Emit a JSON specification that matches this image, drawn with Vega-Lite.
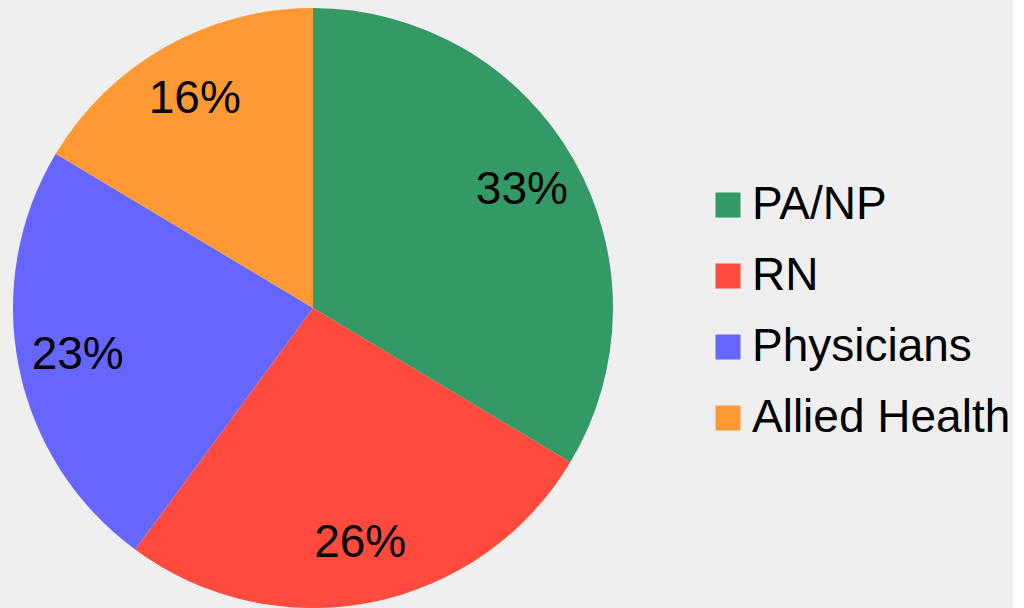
{
  "$schema": "https://vega.github.io/schema/vega-lite/v6.json",
  "width": 600,
  "height": 600,
  "autosize": {"type": "pad"},
  "padding": {"left": 13, "top": 8, "right": 2, "bottom": 0},
  "background": "#efefef",
  "config": {"view": {"stroke": null}, "font": "Liberation Sans"},
  "data": {
    "values": [
      {"role": "PA/NP", "value": 33.6, "label": "33%", "k": 1},
      {"role": "RN", "value": 26.5, "label": "26%", "k": 2},
      {"role": "Physicians", "value": 23.5, "label": "23%", "k": 3},
      {"role": "Allied Health", "value": 16.4, "label": "16%", "k": 4}
    ]
  },
  "encoding": {
    "theta": {"field": "value", "type": "quantitative", "stack": true},
    "order": {"field": "k", "type": "quantitative"}
  },
  "layer": [
    {
      "mark": {"type": "arc", "outerRadius": 300},
      "encoding": {
        "color": {
          "field": "role",
          "type": "nominal",
          "sort": ["PA/NP", "RN", "Physicians", "Allied Health"],
          "scale": {
            "domain": ["PA/NP", "RN", "Physicians", "Allied Health"],
            "range": ["#339966", "#FF4A3D", "#6666FF", "#FF9933"]
          },
          "legend": {
            "title": null,
            "orient": "none",
            "legendX": 692,
            "legendY": 174,
            "symbolType": "square",
            "symbolSize": 625,
            "symbolStrokeWidth": 0,
            "symbolOpacity": 1,
            "labelFontSize": 46,
            "labelFont": "Liberation Sans",
            "labelColor": "#000000",
            "labelOffset": 1,
            "rowPadding": 25,
            "labelLimit": 400
          }
        }
      }
    },
    {
      "mark": {"type": "text", "radius": 240, "fontSize": 46, "color": "#000000", "font": "Liberation Sans", "baseline": "middle", "align": "center"},
      "encoding": {
        "text": {"field": "label", "type": "nominal"}
      }
    }
  ]
}
